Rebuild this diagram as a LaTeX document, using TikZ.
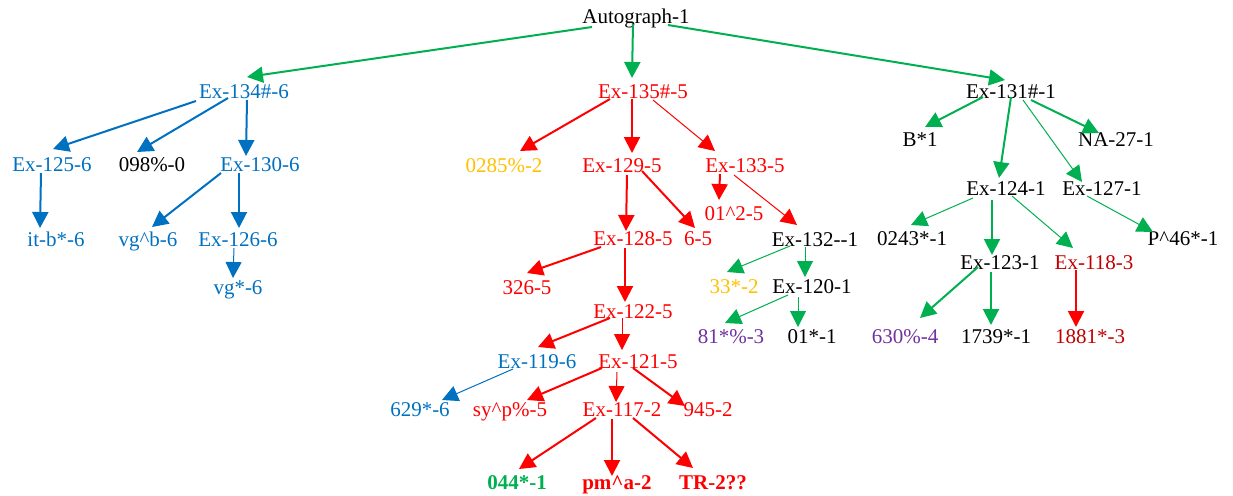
\documentclass[tikz,border=0pt]{standalone}
\usepackage{fontspec}
\setmainfont{Liberation Serif}
\usetikzlibrary{arrows.meta}
\definecolor{xblue}{RGB}{0,112,192}
\definecolor{xgreen}{RGB}{0,176,80}
\definecolor{xred}{RGB}{255,0,0}
\definecolor{xyellow}{RGB}{255,192,0}
\definecolor{xpurple}{RGB}{112,48,160}
\definecolor{xdred}{RGB}{192,0,0}
\tikzset{
	lbl/.style={font=\fontsize{10.5}{12}\selectfont, inner sep=0.3pt, text height=6.6pt, text depth=0.3pt},
	bf/.style={font=\fontsize{10.5}{12}\selectfont\bfseries},
	cblue/.style={text=xblue}, cred/.style={text=xred}, cgreen/.style={text=xgreen},
	cyellow/.style={text=xyellow}, cpurple/.style={text=xpurple}, cdred/.style={text=xdred},
	edge/.style={-{Triangle[length=8pt,width=8pt]}},
	gthick/.style={edge, xgreen, line width=1pt}, gthin/.style={edge, xgreen, line width=0.5pt},
	rthick/.style={edge, xred, line width=1pt}, rthin/.style={edge, xred, line width=0.5pt},
	bthick/.style={edge, xblue, line width=1pt}, bthin/.style={edge, xblue, line width=0.5pt}
}
\begin{document}
\begin{tikzpicture}[x=0.5pt, y=-0.5pt]
\useasboundingbox (0,0) rectangle (1233,495);
\node[lbl] (root) at (636,17) {Autograph-1};
\node[lbl,cblue] (n134) at (244,92) {Ex-134\#-6};
\node[lbl,cred] (n135) at (643,92) {Ex-135\#-5};
\node[lbl] (n131) at (1011,92) {Ex-131\#-1};
% blue branch
\node[lbl,cblue] (n125) at (52,165) {Ex-125-6};
\node[lbl] (p098) at (152,165) {098\%-0};
\node[lbl,cblue] (n130) at (260,165) {Ex-130-6};
\node[lbl,cblue] (itb) at (56,240) {it-b*-6};
\node[lbl,cblue] (vgb) at (148,240) {vg\textasciicircum b-6};
\node[lbl,cblue] (n126) at (238,240) {Ex-126-6};
\node[lbl,cblue] (vg) at (238,288) {vg*-6};
% red branch
\node[lbl,cyellow] (p0285) at (504,166) {0285\%-2};
\node[lbl,cred] (n129) at (622,166) {Ex-129-5};
\node[lbl,cred] (n133) at (745,166) {Ex-133-5};
\node[lbl,cred] (p012) at (734,214) {01\textasciicircum 2-5};
\node[lbl,cred] (n128) at (633,239) {Ex-128-5};
\node[lbl,cred] (p65) at (698,239) {6-5};
\node[lbl] (n132) at (815,240) {Ex-132-{}-1};
\node[lbl,cred] (p326) at (527,288) {326-5};
\node[lbl,cyellow] (p33) at (734,287) {33*-2};
\node[lbl] (n120) at (812,287) {Ex-120-1};
\node[lbl,cred] (n122) at (633,312) {Ex-122-5};
\node[lbl,cpurple] (p81) at (731,337) {81*\%-3};
\node[lbl] (p01) at (812,337) {01*-1};
\node[lbl,cblue] (n119) at (537,362) {Ex-119-6};
\node[lbl,cred] (n121) at (638,362) {Ex-121-5};
\node[lbl,cblue] (p629) at (420,410) {629*-6};
\node[lbl,cred] (psy) at (510,410) {sy\textasciicircum p\%-5};
\node[lbl,cred] (n117) at (622,410) {Ex-117-2};
\node[lbl,cred] (p945) at (708,410) {945-2};
\node[lbl,bf,cgreen] (p044) at (517,483) {044*-1};
\node[lbl,bf,cred] (ppm) at (617,483) {pm\textasciicircum a-2};
\node[lbl,bf,cred] (ptr) at (713,483) {TR-2??};
% green branch
\node[lbl] (pb) at (920,140) {B*1};
\node[lbl] (pna) at (1116,140) {NA-27-1};
\node[lbl] (n124) at (1006,189) {Ex-124-1};
\node[lbl] (n127) at (1102,189) {Ex-127-1};
\node[lbl] (p0243) at (912,239) {0243*-1};
\node[lbl] (pp46) at (1183,239) {P\textasciicircum 46*-1};
\node[lbl] (n123) at (1000,263) {Ex-123-1};
\node[lbl,cdred] (n118) at (1094,263) {Ex-118-3};
\node[lbl,cpurple] (p630) at (905,337) {630\%-4};
\node[lbl] (p1739) at (996,337) {1739*-1};
\node[lbl,cdred] (p1881) at (1090,337) {1881*-3};
% edges: parent/start offset/child/tip offset/style (offsets in px from the centres)
\foreach \a/\sx/\sy/\b/\ex/\ey/\s in {
		root/-44/10/n134/3/-15/gthick, root/-3/7/n135/-11/-14/gthick, root/32/8/n131/-6/-12/gthick,
		n134/-48/9/n125/1/-16/bthick, n134/-16/6/p098/-15/-13/bthick, n134/3/8/n130/-14/-9/bthick,
		n125/-11/8/itb/-16/-12/bthick, n130/-39/8/vgb/4/-13/bthick, n130/-21/8/n126/1/-12/bthick,
		n126/-4/8/vg/-5/-10/bthin,
		n135/-33/7/p0285/16/-15/rthick, n135/-11/7/n129/10/-13/rthick, n135/10/8/n133/-30/-15/rthin,
		n129/5/9/n128/-7/-8/rthick, n129/20/5/p65/-3/-11/rthick,
		n133/-25/8/p012/-15/-14/rthick, n133/-11/9/n132/-18/-15/rthin,
		n128/-32/8/p326/0/-15/rthick, n128/-8/9/n122/-8/-10/rthick,
		n132/-25/6/p33/-7/-15/gthin, n132/-10/7/n120/-7/-10/gthin,
		n120/-24/8/p81/-6/-14/gthin, n120/-14/10/p01/-14/-10/gthin,
		n122/-23/6/n119/1/-15/rthick, n122/-11/6/n121/-16/-12/rthin,
		n119/-24/7/p629/22/-10/bthin,
		n121/-36/6/psy/17/-10/rthick, n121/-21/10/n117/-6/-8/rthin, n121/-5/6/p945/-23/-4/rthick,
		n117/-26/8/p044/2/-14/rthick, n117/-10/9/ppm/-5/-7/rthick, n117/11/8/ptr/-20/-15/rthick,
		n131/-28/5/pb/5/-13/gthick, n131/0/5/n124/-7/-11/gthick,
		n131/12/8/n127/-20/-7/gthin, n131/20/8/pna/-17/-7/gthick,
		n124/-33/9/p0243/-1/-14/gthin, n124/-14/11/n123/-8/-8/gthick, n124/6/7/n118/-21/-15/gthin,
		n127/-15/7/pp46/-30/-7/gthin,
		n123/-22/4/p630/15/-19/gthick, n123/-9/9/p1739/-5/-12/gthick,
		n118/-18/7/p1881/-14/-10/rthick}
	\draw[\s] ([shift={(\sx,\sy)}]\a.center) -- ([shift={(\ex,\ey)}]\b.center);
\end{tikzpicture}
\end{document}
